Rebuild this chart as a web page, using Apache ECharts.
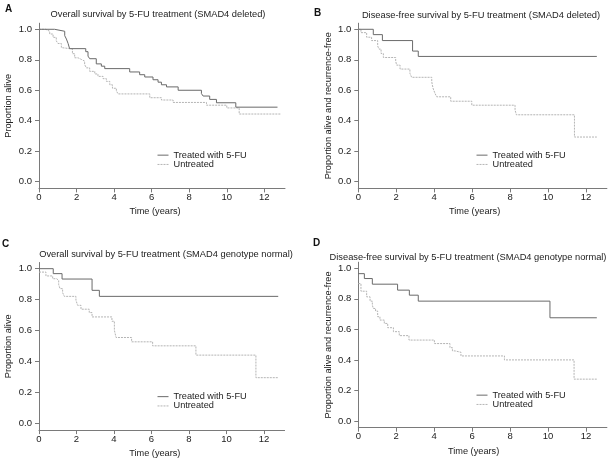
<!DOCTYPE html>
<html>
<head>
<meta charset="utf-8">
<script src="https://cdn.jsdelivr.net/npm/echarts@6/dist/echarts.min.js"></script>
<style>html,body{margin:0;padding:0;background:#fff}#c{width:615px;height:462px}</style>
</head>
<body>
<div id="c"></div>
<script>
// ---------- data ----------
const panelLetters = ['A', 'B', 'C', 'D'];
const panelTitles = [
  'Overall survival by 5-FU treatment (SMAD4 deleted)',
  'Disease-free survival by 5-FU treatment (SMAD4 deleted)',
  'Overall survival by 5-FU treatment (SMAD4 genotype normal)',
  'Disease-free survival by 5-FU treatment (SMAD4 genotype normal)'
];
const yAxisNames = ['Proportion alive', 'Proportion alive and recurrence-free', 'Proportion alive', 'Proportion alive and recurrence-free'];
const xAxisName = 'Time (years)';
const seriesNames = ['Treated with 5-FU', 'Untreated'];
const xTicks = [0, 2, 4, 6, 8, 10, 12];
const yTicks = [0, 0.2, 0.4, 0.6, 0.8, 1.0];

// Panel A
const aTreatedT = [0, 0.83, 1.37, 1.46, 1.55, 1.63, 2.49, 2.61, 2.70, 3.05, 3.32, 3.50, 4.83, 5.36, 5.63, 6.07, 6.34, 6.52, 6.79, 7.41, 8.65, 8.74, 9.09, 9.45, 10.48, 12.7];
const aTreatedS = [1.0, 0.987, 0.958, 0.936, 0.907, 0.873, 0.853, 0.824, 0.807, 0.773, 0.758, 0.742, 0.72, 0.702, 0.687, 0.669, 0.653, 0.636, 0.622, 0.60, 0.578, 0.562, 0.54, 0.518, 0.489, 0.489];
const aUntreatedT = [0, 0.36, 0.57, 0.75, 0.92, 1.01, 1.19, 1.28, 1.78, 1.90, 2.08, 2.26, 2.43, 2.52, 2.70, 2.97, 3.14, 3.41, 3.59, 3.77, 3.91, 4.12, 4.21, 5.90, 6.52, 7.14, 8.92, 10.0, 10.66, 12.9];
const aUntreatedS = [1.0, 0.987, 0.969, 0.947, 0.924, 0.907, 0.88, 0.871, 0.84, 0.813, 0.802, 0.791, 0.769, 0.747, 0.724, 0.707, 0.691, 0.676, 0.658, 0.636, 0.613, 0.596, 0.576, 0.551, 0.536, 0.52, 0.502, 0.484, 0.444, 0.444];

// Panel B
const bTreatedT = [0, 0.79, 1.27, 2.86, 3.16, 12.57];
const bTreatedS = [1.0, 0.965, 0.926, 0.857, 0.822, 0.822];
const bUntreatedT = [0, 0.14, 0.44, 0.70, 1.02, 1.09, 1.20, 1.32, 1.97, 2.02, 2.20, 2.72, 2.81, 3.87, 3.90, 3.95, 4.04, 4.13, 4.87, 5.98, 8.26, 8.33, 11.39, 12.57];
const bUntreatedS = [1.0, 0.978, 0.948, 0.926, 0.891, 0.87, 0.841, 0.815, 0.791, 0.765, 0.739, 0.711, 0.685, 0.657, 0.635, 0.609, 0.58, 0.557, 0.528, 0.502, 0.47, 0.439, 0.293, 0.293];

// Panel C
const cTreatedT = [0, 0.76, 1.23, 2.83, 3.22, 12.76];
const cTreatedS = [1.0, 0.968, 0.933, 0.86, 0.821, 0.821];
const cUntreatedT = [0, 0.37, 0.73, 0.94, 1.05, 1.12, 1.26, 1.35, 1.97, 2.06, 2.24, 2.68, 2.83, 3.89, 4.02, 4.11, 4.94, 6.06, 8.37, 11.57, 12.76];
const cUntreatedS = [0.978, 0.953, 0.935, 0.925, 0.897, 0.871, 0.845, 0.821, 0.796, 0.763, 0.738, 0.716, 0.688, 0.66, 0.602, 0.555, 0.527, 0.501, 0.441, 0.295, 0.295];

// Panel D
const dTreatedT = [0, 0.32, 0.74, 2.07, 2.69, 3.16, 10.10, 12.57];
const dTreatedS = [0.965, 0.933, 0.896, 0.857, 0.824, 0.785, 0.676, 0.676];
const dUntreatedT = [0, 0.14, 0.44, 0.62, 0.74, 0.79, 0.91, 1.02, 1.14, 1.37, 1.55, 1.85, 2.16, 2.67, 4.01, 4.83, 4.96, 5.10, 5.41, 7.70, 11.37, 12.57];
const dUntreatedS = [0.90, 0.85, 0.813, 0.785, 0.759, 0.737, 0.72, 0.683, 0.661, 0.639, 0.611, 0.585, 0.559, 0.53, 0.507, 0.48, 0.459, 0.45, 0.426, 0.40, 0.274, 0.274];

const curves = [
  [[aTreatedT, aTreatedS], [aUntreatedT, aUntreatedS]],
  [[bTreatedT, bTreatedS], [bUntreatedT, bUntreatedS]],
  [[cTreatedT, cTreatedS], [cUntreatedT, cUntreatedS]],
  [[dTreatedT, dTreatedS], [dUntreatedT, dUntreatedS]]
];

// ---------- layout ----------
const FONT = 'Liberation Sans, Arial, Helvetica, sans-serif';
const grids = [
  {left: 39, top: 23.2, width: 246, height: 165.2},
  {left: 358.3, top: 23.2, width: 248.6, height: 165.2},
  {left: 39, top: 262.5, width: 245.6, height: 167.6},
  {left: 358.3, top: 262.2, width: 248.6, height: 165.5}
];
const titlePos = [[158, 10], [481, 10.5], [166, 250], [468, 252.5]];
const letterPos = [[5, 4], [314, 8], [2, 239], [313, 238]];
const legendPos = [[157, 150.5], [476, 150.5], [157, 392], [476, 390.5]];
const yNameGap = [26, 25, 26, 25];
const xNamePad = [14, 16, 14, 18];

const axisColor = '#7a7a7a';
const textColor = '#222';
const lineStyles = [
  {color: '#6a6a6a', width: 1, type: 'solid'},
  {color: '#b4b4b4', width: 1, type: [2, 1]}
];

const option = {
  animation: false,
  backgroundColor: '#fff',
  title: [],
  legend: [],
  grid: [],
  xAxis: [],
  yAxis: [],
  series: []
};

for (let p = 0; p < 4; p++) {
  option.grid.push(Object.assign({containLabel: false}, grids[p]));
  option.title.push({
    text: panelTitles[p], left: titlePos[p][0], top: titlePos[p][1], textAlign: 'center', padding: 0,
    textStyle: {fontFamily: FONT, fontSize: 9.3, fontWeight: 'normal', color: textColor}
  });
  option.title.push({
    text: panelLetters[p], left: letterPos[p][0], top: letterPos[p][1], padding: 0,
    textStyle: {fontFamily: FONT, fontSize: 10, fontWeight: 'bold', color: '#111'}
  });
  option.xAxis.push({
    type: 'value', gridIndex: p, min: 0, max: 13.1,
    name: xAxisName, nameLocation: 'middle', nameGap: 19,
    nameTextStyle: {fontFamily: FONT, fontSize: 9.2, color: textColor, padding: [0, xNamePad[p], 0, 0]},
    axisLine: {show: true, onZero: false, lineStyle: {color: axisColor, width: 1}},
    axisTick: {show: true, length: 4, customValues: xTicks, lineStyle: {color: axisColor}},
    axisLabel: {customValues: xTicks, margin: 4, fontFamily: FONT, fontSize: 9.5, color: textColor,
      formatter: v => String(Math.round(v))},
    splitLine: {show: false}
  });
  option.yAxis.push({
    type: 'value', gridIndex: p, min: -0.044, max: 1.04,
    name: yAxisNames[p], nameLocation: 'middle', nameGap: yNameGap[p], nameRotate: 90,
    nameTextStyle: {fontFamily: FONT, fontSize: 9.2, color: textColor},
    axisLine: {show: true, onZero: false, lineStyle: {color: axisColor, width: 1}},
    axisTick: {show: true, length: 4, customValues: yTicks, lineStyle: {color: axisColor}},
    axisLabel: {customValues: yTicks, margin: 7, fontFamily: FONT, fontSize: 9.5, color: textColor,
      formatter: v => v.toFixed(1)},
    splitLine: {show: false}
  });
  const names = [];
  for (let s = 0; s < 2; s++) {
    const [T, S] = curves[p][s];
    const name = seriesNames[s] + (p ? ' '.repeat(p) : '');
    names.push(name);
    option.series.push({
      type: 'line', name: name, xAxisIndex: p, yAxisIndex: p, step: 'end',
      symbol: 'none', lineStyle: lineStyles[s], itemStyle: {color: lineStyles[s].color},
      data: T.map((t, i) => [t, S[i]]), z: 3 - s
    });
  }
  option.legend.push({
    data: names, orient: 'vertical', left: legendPos[p][0], top: legendPos[p][1],
    padding: 0, itemGap: 0, itemWidth: 11, itemHeight: 9.3,
    itemStyle: {opacity: 0},
    lineStyle: {width: 1},
    formatter: n => n.trim(),
    textStyle: {fontFamily: FONT, fontSize: 9.2, color: textColor, lineHeight: 9.3, padding: 0},
    selectedMode: false
  });
}

const chart = echarts.init(document.getElementById('c'), null, {renderer: 'canvas'});
chart.setOption(option);
</script>
</body>
</html>
